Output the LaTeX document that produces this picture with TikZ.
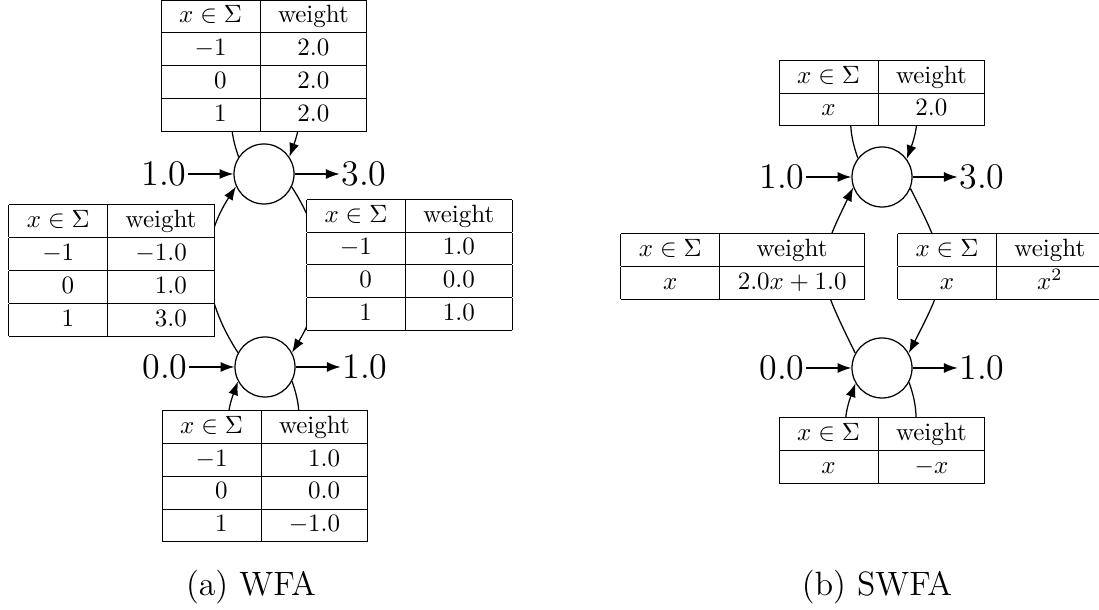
\documentclass[tikz,border=0pt]{standalone}
\usetikzlibrary{positioning,arrows.meta}
\renewcommand{\arraystretch}{1.06}
\setlength{\tabcolsep}{7.2pt}

\begin{document}
\begin{tikzpicture}[
  x=0.4pt, y=0.4pt,
  estado/.style={draw, circle, line width=0.5pt, minimum size=24pt, inner sep=0pt},
  rotulo/.style={font=\Large, inner sep=0.5pt},
  tabela/.style={fill=white, inner sep=0pt},
  legenda/.style={font=\fontsize{13.5}{16}\selectfont},
  seta/.style={-{Latex[length=5.5pt, width=4pt]}, line width=0.5pt},
  node distance=18pt]
\useasboundingbox (0,0) rectangle (1099,-610);
% (a) WFA
\node[estado] (q0) at (264,-174) {};
\node[estado] (q1) at (265,-367) {};
\node[rotulo, left=of q0] (ini0) {1.0};
\node[rotulo, right=of q0] (fim0) {3.0};
\node[rotulo, left=of q1] (ini1) {0.0};
\node[rotulo, right=of q1] (fim1) {1.0};
\draw[seta] (ini0) -- (q0);
\draw[seta] (q0) -- (fim0);
\draw[seta] (ini1) -- (q1);
\draw[seta] (q1) -- (fim1);
\draw[seta] (q0.146) .. controls +(110:110) and +(70:110) .. (q0.34);
\draw[seta] (q1.-28) .. controls +(-70:110) and +(-110:110) .. (q1.208);
\draw[seta] (q1.152) .. controls +(123:68) and +(237:68) .. (q0.204);
\draw[seta] (q0.-25) .. controls +(-57:68) and +(59:68) .. (q1.28);
\node[tabela, above=4.4pt of q0] (t00) {\begin{tabular}{|c|c|}\hline
  $x\in\Sigma$ & weight \\\hline
  $-1$ & $2.0$ \\\hline
  $\phantom{-}0$ & $2.0$ \\\hline
  $\phantom{-}1$ & $2.0$ \\\hline
\end{tabular}};
\node[tabela, below=4.8pt of q1] (t11) {\begin{tabular}{|c|c|}\hline
  $x\in\Sigma$ & weight \\\hline
  $-1$ & $\phantom{-}1.0$ \\\hline
  $\phantom{-}0$ & $\phantom{-}0.0$ \\\hline
  $\phantom{-}1$ & $-1.0$ \\\hline
\end{tabular}};
\node[tabela, anchor=east] (t10) at (215,-270.5) {\begin{tabular}{|c|c|}\hline
  $x\in\Sigma$ & weight \\\hline
  $-1$ & $-1.0$ \\\hline
  $\phantom{-}0$ & $\phantom{-}1.0$ \\\hline
  $\phantom{-}1$ & $\phantom{-}3.0$ \\\hline
\end{tabular}};
\node[tabela, anchor=west] (t01) at (306,-265) {\begin{tabular}{|c|c|}\hline
  $x\in\Sigma$ & weight \\\hline
  $-1$ & $1.0$ \\\hline
  $\phantom{-}0$ & $0.0$ \\\hline
  $\phantom{-}1$ & $1.0$ \\\hline
\end{tabular}};
\node[legenda] (capa) at (251,-587) {(a) WFA};
% (b) SWFA
\node[estado] (p0) at (882,-177) {};
\node[estado] (p1) at (882,-368) {};
\node[rotulo, left=of p0] (inip0) {1.0};
\node[rotulo, right=of p0] (fimp0) {3.0};
\node[rotulo, left=of p1] (inip1) {0.0};
\node[rotulo, right=of p1] (fimp1) {1.0};
\draw[seta] (inip0) -- (p0);
\draw[seta] (p0) -- (fimp0);
\draw[seta] (inip1) -- (p1);
\draw[seta] (p1) -- (fimp1);
\draw[seta] (p0.142) .. controls +(110:110) and +(70:110) .. (p0.36);
\draw[seta] (p1.-28) .. controls +(-70:110) and +(-110:110) .. (p1.210);
\draw[seta] (p1.151) .. controls +(116:90) and +(244:90) .. (p0.200);
\draw[seta] (p0.-22) .. controls +(-63:90) and +(63:90) .. (p1.29);
\node[tabela, above=7.8pt of p0] (s00) {\begin{tabular}{|c|c|}\hline
  $x\in\Sigma$ & weight \\\hline
  $x$ & $2.0$ \\\hline
\end{tabular}};
\node[tabela, below=7.2pt of p1] (s11) {\begin{tabular}{|c|c|}\hline
  $x\in\Sigma$ & weight \\\hline
  $x$ & $-x$ \\\hline
\end{tabular}};
\node[tabela, anchor=east] (s10) at (865,-266.5) {\begin{tabular}{|c|c|}\hline
  $x\in\Sigma$ & weight \\\hline
  $x$ & $2.0x+1.0$ \\\hline
\end{tabular}};
\node[tabela, anchor=west] (s01) at (897,-266.5) {\begin{tabular}{|c|c|}\hline
  $x\in\Sigma$ & weight \\\hline
  $x$ & $x^2$ \\\hline
\end{tabular}};
\node[legenda] (capb) at (877,-587) {(b) SWFA};
\end{tikzpicture}
\end{document}
